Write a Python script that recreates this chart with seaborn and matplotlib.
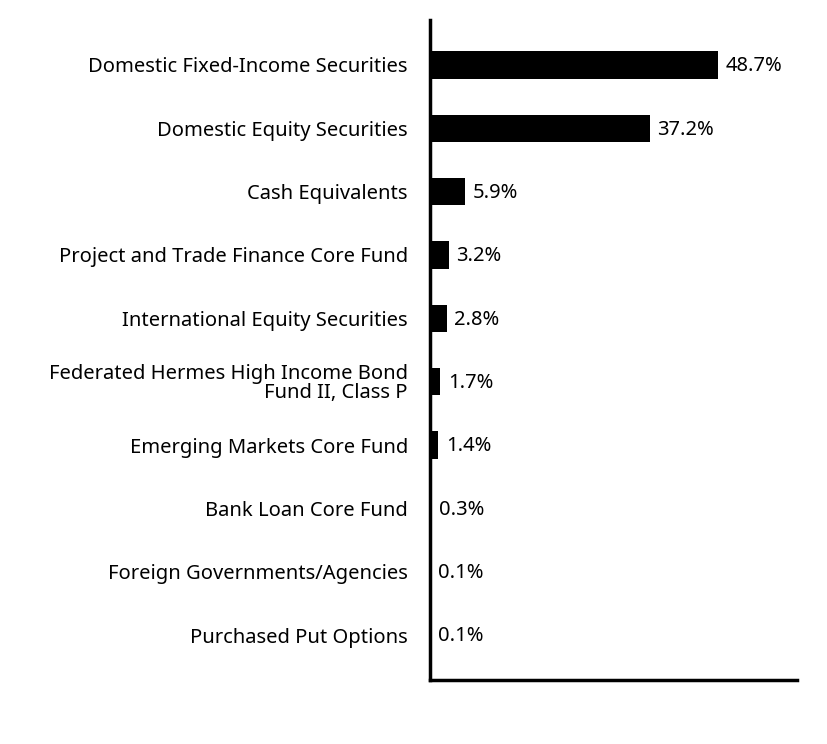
import matplotlib
matplotlib.use("Agg")
import matplotlib.pyplot as plt
import seaborn as sns
import pandas as pd

categories = [
    "Domestic Fixed-Income Securities",
    "Domestic Equity Securities",
    "Cash Equivalents",
    "Project and Trade Finance Core Fund",
    "International Equity Securities",
    "Federated Hermes High Income Bond\nFund II, Class P",
    "Emerging Markets Core Fund",
    "Bank Loan Core Fund",
    "Foreign Governments/Agencies",
    "Purchased Put Options",
]
values = [48.7, 37.2, 5.9, 3.2, 2.8, 1.7, 1.4, 0.3, 0.1, 0.1]
value_labels = ["48.7%", "37.2%", "5.9%", "3.2%", "2.8%", "1.7%", "1.4%", "0.3%", "0.1%", "0.1%"]

sns.set_style("white")
plt.rcParams["font.family"] = ["Noto Sans", "DejaVu Sans"]

df = pd.DataFrame({"cat": categories, "val": values})

fig = plt.figure(figsize=(8.28, 7.44), dpi=100)
ax = fig.add_axes([430 / 828, 1 - 680 / 744, (797 - 430) / 828, (680 - 20) / 744])

sns.barplot(data=df, x="val", y="cat", color="black", width=0.43, ax=ax, saturation=1)
for p in ax.patches:
    p.set_edgecolor("none")

ax.set_xlim(0, 62.1)
ax.set_ylim(9.71, -0.71)

FS = 14.5
for i, (v, lab) in enumerate(zip(values, value_labels)):
    ax.annotate(lab, xy=(v, i), xytext=(5.5, -1), textcoords="offset points",
                va="center", ha="left", fontsize=FS, color="black")

ax.set_xlabel("")
ax.set_ylabel("")
ax.set_xticks([])
ax.tick_params(axis="y", length=0, pad=16, labelsize=FS, labelcolor="black")
for lbl in ax.get_yticklabels():
    lbl.set_linespacing(0.95)

sns.despine(ax=ax, top=True, right=True)
for s in ["left", "bottom"]:
    ax.spines[s].set_linewidth(2.5)
    ax.spines[s].set_color("black")

fig.savefig("out.png", dpi=100)
